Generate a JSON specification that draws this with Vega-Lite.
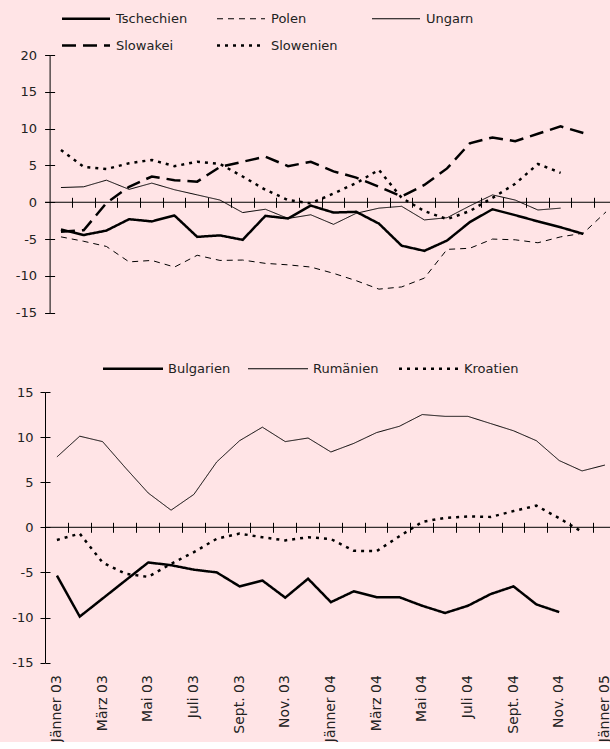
{
  "$schema": "https://vega.github.io/schema/vega-lite/v6.json",
  "background": "#FFE4E6",
  "padding": {"left": 11, "top": 12, "right": 0, "bottom": 0},
  "bounds": "flush",
  "spacing": 79,
  "config": {
    "view": {"stroke": null},
    "font": "DejaVu Sans",
    "axis": {"labelFont": "DejaVu Sans", "labelFontSize": 13, "labelColor": "#222", "domainColor": "#000", "tickColor": "#000", "grid": false, "title": null},
    "legend": {"labelFont": "DejaVu Sans", "labelFontSize": 13, "labelColor": "#222"}
  },
  "resolve": {"scale": {"x": "independent", "y": "independent", "strokeDash": "independent", "strokeWidth": "independent"}},
  "datasets": {
    "top": [
      {"m": "Jänner 03", "s": "Tschechien", "v": -3.7}, {"m": "Feb. 03", "s": "Tschechien", "v": -4.45}, {"m": "März 03", "s": "Tschechien", "v": -3.85}, {"m": "April 03", "s": "Tschechien", "v": -2.3}, {"m": "Mai 03", "s": "Tschechien", "v": -2.6}, {"m": "Juni 03", "s": "Tschechien", "v": -1.8}, {"m": "Juli 03", "s": "Tschechien", "v": -4.7}, {"m": "Aug. 03", "s": "Tschechien", "v": -4.5}, {"m": "Sept. 03", "s": "Tschechien", "v": -5.1}, {"m": "Okt. 03", "s": "Tschechien", "v": -1.85}, {"m": "Nov. 03", "s": "Tschechien", "v": -2.2}, {"m": "Dez. 03", "s": "Tschechien", "v": -0.45}, {"m": "Jänner 04", "s": "Tschechien", "v": -1.4}, {"m": "Feb. 04", "s": "Tschechien", "v": -1.3}, {"m": "März 04", "s": "Tschechien", "v": -2.9}, {"m": "April 04", "s": "Tschechien", "v": -5.9}, {"m": "Mai 04", "s": "Tschechien", "v": -6.6}, {"m": "Juni 04", "s": "Tschechien", "v": -5.2}, {"m": "Juli 04", "s": "Tschechien", "v": -2.7}, {"m": "Aug. 04", "s": "Tschechien", "v": -0.95}, {"m": "Sept. 04", "s": "Tschechien", "v": -1.75}, {"m": "Okt. 04", "s": "Tschechien", "v": -2.6}, {"m": "Nov. 04", "s": "Tschechien", "v": -3.4}, {"m": "Dez. 04", "s": "Tschechien", "v": -4.3},
      {"m": "Jänner 03", "s": "Polen", "v": -4.7}, {"m": "Feb. 03", "s": "Polen", "v": -5.3}, {"m": "März 03", "s": "Polen", "v": -6.0}, {"m": "April 03", "s": "Polen", "v": -8.1}, {"m": "Mai 03", "s": "Polen", "v": -7.9}, {"m": "Juni 03", "s": "Polen", "v": -8.8}, {"m": "Juli 03", "s": "Polen", "v": -7.2}, {"m": "Aug. 03", "s": "Polen", "v": -7.9}, {"m": "Sept. 03", "s": "Polen", "v": -7.85}, {"m": "Okt. 03", "s": "Polen", "v": -8.3}, {"m": "Nov. 03", "s": "Polen", "v": -8.5}, {"m": "Dez. 03", "s": "Polen", "v": -8.8}, {"m": "Jänner 04", "s": "Polen", "v": -9.65}, {"m": "Feb. 04", "s": "Polen", "v": -10.65}, {"m": "März 04", "s": "Polen", "v": -11.8}, {"m": "April 04", "s": "Polen", "v": -11.5}, {"m": "Mai 04", "s": "Polen", "v": -10.3}, {"m": "Juni 04", "s": "Polen", "v": -6.4}, {"m": "Juli 04", "s": "Polen", "v": -6.25}, {"m": "Aug. 04", "s": "Polen", "v": -5.0}, {"m": "Sept. 04", "s": "Polen", "v": -5.1}, {"m": "Okt. 04", "s": "Polen", "v": -5.5}, {"m": "Nov. 04", "s": "Polen", "v": -4.7}, {"m": "Dez. 04", "s": "Polen", "v": -4.2}, {"m": "Jänner 05", "s": "Polen", "v": -1.3},
      {"m": "Jänner 03", "s": "Ungarn", "v": 2.0}, {"m": "Feb. 03", "s": "Ungarn", "v": 2.1}, {"m": "März 03", "s": "Ungarn", "v": 3.0}, {"m": "April 03", "s": "Ungarn", "v": 1.75}, {"m": "Mai 03", "s": "Ungarn", "v": 2.6}, {"m": "Juni 03", "s": "Ungarn", "v": 1.7}, {"m": "Juli 03", "s": "Ungarn", "v": 1.0}, {"m": "Aug. 03", "s": "Ungarn", "v": 0.3}, {"m": "Sept. 03", "s": "Ungarn", "v": -1.4}, {"m": "Okt. 03", "s": "Ungarn", "v": -0.95}, {"m": "Nov. 03", "s": "Ungarn", "v": -2.2}, {"m": "Dez. 03", "s": "Ungarn", "v": -1.7}, {"m": "Jänner 04", "s": "Ungarn", "v": -3.0}, {"m": "Feb. 04", "s": "Ungarn", "v": -1.5}, {"m": "März 04", "s": "Ungarn", "v": -0.8}, {"m": "April 04", "s": "Ungarn", "v": -0.55}, {"m": "Mai 04", "s": "Ungarn", "v": -2.4}, {"m": "Juni 04", "s": "Ungarn", "v": -2.1}, {"m": "Juli 04", "s": "Ungarn", "v": -0.5}, {"m": "Aug. 04", "s": "Ungarn", "v": 1.0}, {"m": "Sept. 04", "s": "Ungarn", "v": 0.3}, {"m": "Okt. 04", "s": "Ungarn", "v": -1.05}, {"m": "Nov. 04", "s": "Ungarn", "v": -0.8},
      {"m": "Jänner 03", "s": "Slowakei", "v": -4.0}, {"m": "Feb. 03", "s": "Slowakei", "v": -3.8}, {"m": "März 03", "s": "Slowakei", "v": -0.1}, {"m": "April 03", "s": "Slowakei", "v": 2.1}, {"m": "Mai 03", "s": "Slowakei", "v": 3.5}, {"m": "Juni 03", "s": "Slowakei", "v": 3.0}, {"m": "Juli 03", "s": "Slowakei", "v": 2.8}, {"m": "Aug. 03", "s": "Slowakei", "v": 4.8}, {"m": "Sept. 03", "s": "Slowakei", "v": 5.5}, {"m": "Okt. 03", "s": "Slowakei", "v": 6.2}, {"m": "Nov. 03", "s": "Slowakei", "v": 4.9}, {"m": "Dez. 03", "s": "Slowakei", "v": 5.5}, {"m": "Jänner 04", "s": "Slowakei", "v": 4.2}, {"m": "Feb. 04", "s": "Slowakei", "v": 3.35}, {"m": "März 04", "s": "Slowakei", "v": 2.1}, {"m": "April 04", "s": "Slowakei", "v": 0.8}, {"m": "Mai 04", "s": "Slowakei", "v": 2.35}, {"m": "Juni 04", "s": "Slowakei", "v": 4.6}, {"m": "Juli 04", "s": "Slowakei", "v": 8.0}, {"m": "Aug. 04", "s": "Slowakei", "v": 8.8}, {"m": "Sept. 04", "s": "Slowakei", "v": 8.3}, {"m": "Okt. 04", "s": "Slowakei", "v": 9.3}, {"m": "Nov. 04", "s": "Slowakei", "v": 10.3}, {"m": "Dez. 04", "s": "Slowakei", "v": 9.4},
      {"m": "Jänner 03", "s": "Slowenien", "v": 7.1}, {"m": "Feb. 03", "s": "Slowenien", "v": 4.8}, {"m": "März 03", "s": "Slowenien", "v": 4.5}, {"m": "April 03", "s": "Slowenien", "v": 5.3}, {"m": "Mai 03", "s": "Slowenien", "v": 5.75}, {"m": "Juni 03", "s": "Slowenien", "v": 4.9}, {"m": "Juli 03", "s": "Slowenien", "v": 5.5}, {"m": "Aug. 03", "s": "Slowenien", "v": 5.2}, {"m": "Sept. 03", "s": "Slowenien", "v": 3.5}, {"m": "Okt. 03", "s": "Slowenien", "v": 1.7}, {"m": "Nov. 03", "s": "Slowenien", "v": 0.3}, {"m": "Dez. 03", "s": "Slowenien", "v": -0.15}, {"m": "Jänner 04", "s": "Slowenien", "v": 1.2}, {"m": "Feb. 04", "s": "Slowenien", "v": 2.6}, {"m": "März 04", "s": "Slowenien", "v": 4.4}, {"m": "April 04", "s": "Slowenien", "v": 0.6}, {"m": "Mai 04", "s": "Slowenien", "v": -1.2}, {"m": "Juni 04", "s": "Slowenien", "v": -2.3}, {"m": "Juli 04", "s": "Slowenien", "v": -1.2}, {"m": "Aug. 04", "s": "Slowenien", "v": 0.6}, {"m": "Sept. 04", "s": "Slowenien", "v": 2.5}, {"m": "Okt. 04", "s": "Slowenien", "v": 5.2}, {"m": "Nov. 04", "s": "Slowenien", "v": 4.0}
    ],
    "bottom": [
      {"m": "Jänner 03", "s": "Bulgarien", "v": -5.35}, {"m": "Feb. 03", "s": "Bulgarien", "v": -9.9}, {"m": "März 03", "s": "Bulgarien", "v": -7.9}, {"m": "April 03", "s": "Bulgarien", "v": -5.9}, {"m": "Mai 03", "s": "Bulgarien", "v": -3.9}, {"m": "Juni 03", "s": "Bulgarien", "v": -4.2}, {"m": "Juli 03", "s": "Bulgarien", "v": -4.7}, {"m": "Aug. 03", "s": "Bulgarien", "v": -5.0}, {"m": "Sept. 03", "s": "Bulgarien", "v": -6.55}, {"m": "Okt. 03", "s": "Bulgarien", "v": -5.9}, {"m": "Nov. 03", "s": "Bulgarien", "v": -7.8}, {"m": "Dez. 03", "s": "Bulgarien", "v": -5.7}, {"m": "Jänner 04", "s": "Bulgarien", "v": -8.3}, {"m": "Feb. 04", "s": "Bulgarien", "v": -7.1}, {"m": "März 04", "s": "Bulgarien", "v": -7.75}, {"m": "April 04", "s": "Bulgarien", "v": -7.75}, {"m": "Mai 04", "s": "Bulgarien", "v": -8.7}, {"m": "Juni 04", "s": "Bulgarien", "v": -9.5}, {"m": "Juli 04", "s": "Bulgarien", "v": -8.7}, {"m": "Aug. 04", "s": "Bulgarien", "v": -7.4}, {"m": "Sept. 04", "s": "Bulgarien", "v": -6.55}, {"m": "Okt. 04", "s": "Bulgarien", "v": -8.55}, {"m": "Nov. 04", "s": "Bulgarien", "v": -9.4},
      {"m": "Jänner 03", "s": "Rumänien", "v": 7.8}, {"m": "Feb. 03", "s": "Rumänien", "v": 10.1}, {"m": "März 03", "s": "Rumänien", "v": 9.5}, {"m": "April 03", "s": "Rumänien", "v": 6.6}, {"m": "Mai 03", "s": "Rumänien", "v": 3.8}, {"m": "Juni 03", "s": "Rumänien", "v": 1.9}, {"m": "Juli 03", "s": "Rumänien", "v": 3.65}, {"m": "Aug. 03", "s": "Rumänien", "v": 7.25}, {"m": "Sept. 03", "s": "Rumänien", "v": 9.6}, {"m": "Okt. 03", "s": "Rumänien", "v": 11.1}, {"m": "Nov. 03", "s": "Rumänien", "v": 9.5}, {"m": "Dez. 03", "s": "Rumänien", "v": 9.9}, {"m": "Jänner 04", "s": "Rumänien", "v": 8.35}, {"m": "Feb. 04", "s": "Rumänien", "v": 9.3}, {"m": "März 04", "s": "Rumänien", "v": 10.5}, {"m": "April 04", "s": "Rumänien", "v": 11.2}, {"m": "Mai 04", "s": "Rumänien", "v": 12.5}, {"m": "Juni 04", "s": "Rumänien", "v": 12.3}, {"m": "Juli 04", "s": "Rumänien", "v": 12.3}, {"m": "Aug. 04", "s": "Rumänien", "v": 11.5}, {"m": "Sept. 04", "s": "Rumänien", "v": 10.7}, {"m": "Okt. 04", "s": "Rumänien", "v": 9.6}, {"m": "Nov. 04", "s": "Rumänien", "v": 7.4}, {"m": "Dez. 04", "s": "Rumänien", "v": 6.25}, {"m": "Jänner 05", "s": "Rumänien", "v": 6.9},
      {"m": "Jänner 03", "s": "Kroatien", "v": -1.4}, {"m": "Feb. 03", "s": "Kroatien", "v": -0.7}, {"m": "März 03", "s": "Kroatien", "v": -3.9}, {"m": "April 03", "s": "Kroatien", "v": -5.15}, {"m": "Mai 03", "s": "Kroatien", "v": -5.5}, {"m": "Juni 03", "s": "Kroatien", "v": -4.05}, {"m": "Juli 03", "s": "Kroatien", "v": -2.75}, {"m": "Aug. 03", "s": "Kroatien", "v": -1.27}, {"m": "Sept. 03", "s": "Kroatien", "v": -0.7}, {"m": "Okt. 03", "s": "Kroatien", "v": -1.1}, {"m": "Nov. 03", "s": "Kroatien", "v": -1.45}, {"m": "Dez. 03", "s": "Kroatien", "v": -1.1}, {"m": "Jänner 04", "s": "Kroatien", "v": -1.3}, {"m": "Feb. 04", "s": "Kroatien", "v": -2.6}, {"m": "März 04", "s": "Kroatien", "v": -2.65}, {"m": "April 04", "s": "Kroatien", "v": -1.0}, {"m": "Mai 04", "s": "Kroatien", "v": 0.6}, {"m": "Juni 04", "s": "Kroatien", "v": 1.05}, {"m": "Juli 04", "s": "Kroatien", "v": 1.2}, {"m": "Aug. 04", "s": "Kroatien", "v": 1.15}, {"m": "Sept. 04", "s": "Kroatien", "v": 1.8}, {"m": "Okt. 04", "s": "Kroatien", "v": 2.4}, {"m": "Nov. 04", "s": "Kroatien", "v": 1.0}, {"m": "Dez. 04", "s": "Kroatien", "v": -0.5}
    ]
  },
  "vconcat": [
    {
      "width": 565,
      "height": 257.7,
      "data": {"name": "top"},
      "resolve": {"axis": {"x": "independent", "y": "independent"}},
      "layer": [
        {
          "mark": {"type": "line", "color": "#000", "strokeCap": "butt"},
          "encoding": {
            "x": {
              "field": "m", "type": "ordinal", "bandPosition": 0.5,
              "sort": ["Jänner 03","Feb. 03","März 03","April 03","Mai 03","Juni 03","Juli 03","Aug. 03","Sept. 03","Okt. 03","Nov. 03","Dez. 03","Jänner 04","Feb. 04","März 04","April 04","Mai 04","Juni 04","Juli 04","Aug. 04","Sept. 04","Okt. 04","Nov. 04","Dez. 04","Jänner 05"],
              "scale": {"type": "band", "domain": ["Jänner 03","Feb. 03","März 03","April 03","Mai 03","Juni 03","Juli 03","Aug. 03","Sept. 03","Okt. 03","Nov. 03","Dez. 03","Jänner 04","Feb. 04","März 04","April 04","Mai 04","Juni 04","Juli 04","Aug. 04","Sept. 04","Okt. 04","Nov. 04","Dez. 04","Jänner 05"], "range": [4.6, 572.4], "paddingInner": 0, "paddingOuter": 0},
              "axis": {"orient": "top", "offset": -152.3, "tickSize": 10, "bandPosition": 1, "tickExtra": false, "labels": false, "domain": false, "title": null,
                "values": ["Jänner 03","Feb. 03","März 03","April 03","Mai 03","Juni 03","Juli 03","Aug. 03","Sept. 03","Okt. 03","Nov. 03","Dez. 03","Jänner 04","Feb. 04","März 04","April 04","Mai 04","Juni 04","Juli 04","Aug. 04","Sept. 04","Okt. 04","Nov. 04","Dez. 04"]}
            },
            "y": {
              "field": "v", "type": "quantitative",
              "scale": {"domain": [-15, 20], "nice": false, "zero": false},
              "axis": {"orient": "left", "offset": -4.6, "values": [-15, -10, -5, 0, 5, 10, 15, 20], "tickSize": 5, "labelPadding": 8, "title": null, "labelExpr": "'' + datum.value"}
            },
            "strokeDash": {
              "field": "s", "type": "nominal",
              "scale": {"type": "ordinal", "domain": ["Tschechien", "Polen", "Ungarn", "Slowakei", "Slowenien"], "range": [[1, 0], [6, 5], [1, 0], [14, 7], [3, 5]]},
              "legend": {"orient": "none", "direction": "horizontal", "legendX": 34.5, "legendY": -43, "columns": 3, "title": null, "symbolType": "M-4.8,0H4.8", "symbolSize": 100, "labelOffset": 23.5, "columnPadding": 24, "rowPadding": 13, "gridAlign": "all", "labelLimit": 0, "symbolStrokeColor": "#000"}
            },
            "strokeWidth": {
              "field": "s", "type": "nominal",
              "scale": {"type": "ordinal", "domain": ["Tschechien", "Polen", "Ungarn", "Slowakei", "Slowenien"], "range": [2.5, 1, 1, 2.5, 2.5]},
              "legend": {"orient": "none", "direction": "horizontal", "legendX": 34.5, "legendY": -43, "columns": 3, "title": null, "symbolType": "M-4.8,0H4.8", "symbolSize": 100, "labelOffset": 23.5, "columnPadding": 24, "rowPadding": 13, "gridAlign": "all", "labelLimit": 0, "symbolStrokeColor": "#000"}
            }
          }
        },
        {
          "data": {"values": [{}]},
          "mark": {"type": "rule", "color": "#000", "strokeWidth": 1},
          "encoding": {
            "y": {"datum": 0, "type": "quantitative",
              "axis": {"orient": "left", "offset": -9.6, "values": [-15, -10, -5, 0, 5, 10, 15, 20], "tickSize": 5, "labels": false, "domain": false, "title": null}}
          }
        }
      ]
    },
    {
      "width": 565,
      "height": 270.6,
      "data": {"name": "bottom"},
      "resolve": {"axis": {"x": "independent", "y": "independent"}},
      "layer": [
        {
          "mark": {"type": "line", "color": "#000", "strokeCap": "butt"},
          "encoding": {
            "x": {
              "field": "m", "type": "ordinal", "bandPosition": 0.5,
              "sort": ["Jänner 03","Feb. 03","März 03","April 03","Mai 03","Juni 03","Juli 03","Aug. 03","Sept. 03","Okt. 03","Nov. 03","Dez. 03","Jänner 04","Feb. 04","März 04","April 04","Mai 04","Juni 04","Juli 04","Aug. 04","Sept. 04","Okt. 04","Nov. 04","Dez. 04","Jänner 05"],
              "scale": {"type": "band", "domain": ["Jänner 03","Feb. 03","März 03","April 03","Mai 03","Juni 03","Juli 03","Aug. 03","Sept. 03","Okt. 03","Nov. 03","Dez. 03","Jänner 04","Feb. 04","März 04","April 04","Mai 04","Juni 04","Juli 04","Aug. 04","Sept. 04","Okt. 04","Nov. 04","Dez. 04","Jänner 05"], "range": [0.5, 571.3], "paddingInner": 0, "paddingOuter": 0},
              "axis": {"orient": "top", "offset": -140.3, "tickSize": 10, "bandPosition": 1, "tickExtra": false, "labels": false, "domain": false, "title": null,
                "values": ["Jänner 03","Feb. 03","März 03","April 03","Mai 03","Juni 03","Juli 03","Aug. 03","Sept. 03","Okt. 03","Nov. 03","Dez. 03","Jänner 04","Feb. 04","März 04","April 04","Mai 04","Juni 04","Juli 04","Aug. 04","Sept. 04","Okt. 04","Nov. 04","Dez. 04"]}
            },
            "y": {
              "field": "v", "type": "quantitative",
              "scale": {"domain": [-15, 15], "nice": false, "zero": false},
              "axis": {"orient": "left", "values": [-15, -10, -5, 0, 5, 10, 15], "tickSize": 5, "labelPadding": 7, "title": null, "labelExpr": "'' + datum.value"}
            },
            "strokeDash": {
              "field": "s", "type": "nominal",
              "scale": {"type": "ordinal", "domain": ["Bulgarien", "Rumänien", "Kroatien"], "range": [[1, 0], [1, 0], [3, 5]]},
              "legend": {"orient": "none", "direction": "horizontal", "legendX": 81.5, "legendY": -30, "columns": 3, "title": null, "symbolType": "M-6,0H6", "symbolSize": 100, "labelOffset": 28.5, "columnPadding": 15, "labelLimit": 0, "symbolStrokeColor": "#000"}
            },
            "strokeWidth": {
              "field": "s", "type": "nominal",
              "scale": {"type": "ordinal", "domain": ["Bulgarien", "Rumänien", "Kroatien"], "range": [2.5, 1, 2.5]},
              "legend": {"orient": "none", "direction": "horizontal", "legendX": 81.5, "legendY": -30, "columns": 3, "title": null, "symbolType": "M-6,0H6", "symbolSize": 100, "labelOffset": 28.5, "columnPadding": 15, "labelLimit": 0, "symbolStrokeColor": "#000"}
            }
          }
        },
        {
          "data": {"values": [{}]},
          "mark": {"type": "rule", "color": "#000", "strokeWidth": 1},
          "encoding": {
            "y": {"datum": 0, "type": "quantitative",
              "axis": {"orient": "left", "offset": -5, "values": [-15, -10, -5, 0, 5, 10, 15], "tickSize": 5, "labels": false, "domain": false, "title": null}}
          }
        },
        {
          "mark": {"type": "point", "opacity": 0},
          "encoding": {
            "x": {
              "field": "m", "type": "ordinal", "bandPosition": 0.5,
              "sort": ["Jänner 03","Feb. 03","März 03","April 03","Mai 03","Juni 03","Juli 03","Aug. 03","Sept. 03","Okt. 03","Nov. 03","Dez. 03","Jänner 04","Feb. 04","März 04","April 04","Mai 04","Juni 04","Juli 04","Aug. 04","Sept. 04","Okt. 04","Nov. 04","Dez. 04","Jänner 05"],
              "axis": {"orient": "bottom", "labelAngle": -90, "ticks": false, "domain": false, "labelPadding": 12, "labelFontSize": 14, "title": null,
                "values": ["Jänner 03","März 03","Mai 03","Juli 03","Sept. 03","Nov. 03","Jänner 04","März 04","Mai 04","Juli 04","Sept. 04","Nov. 04","Jänner 05"]}
            }
          }
        }
      ]
    }
  ]
}
